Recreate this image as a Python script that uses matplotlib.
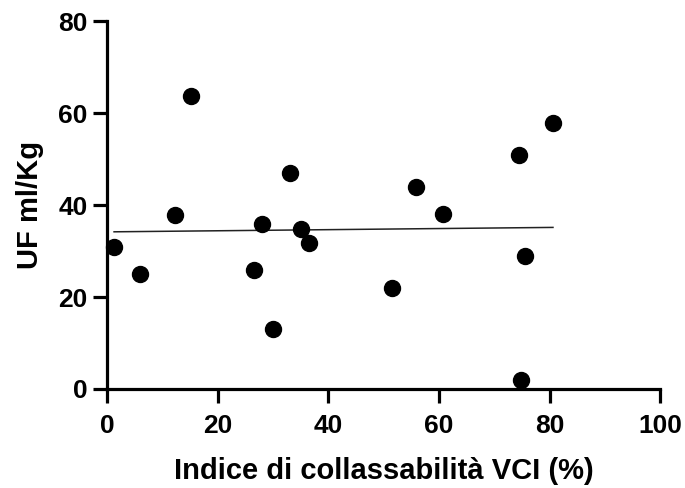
import numpy as np
import matplotlib.pyplot as plt

plt.rcParams['font.family'] = ['Liberation Sans', 'DejaVu Sans']

# collapsibility index (%) vs ultrafiltration (ml/Kg)
vci_index = [1.3, 6.0, 12.3, 15.2, 26.6, 28.0, 30.1, 33.1, 35.1, 36.6,
             51.5, 55.8, 60.7, 74.4, 74.9, 75.6, 80.6]
uf_ml_kg = [30.9, 25.0, 37.9, 63.8, 25.9, 35.9, 13.0, 47.0, 34.9, 31.8,
            21.9, 44.0, 38.0, 50.9, 2.0, 28.9, 57.9]

x = np.array(vci_index)
y = np.array(uf_ml_kg)

# linear regression over the observed range
slope, intercept = np.polyfit(x, y, 1)
xfit = np.array([x.min(), x.max()])
yfit = slope * xfit + intercept

fig = plt.figure(figsize=(6.85, 4.88), dpi=100)
ax = fig.add_axes([0.156, 0.203, 0.808, 0.753])

ax.plot(xfit, yfit, color='#222222', linewidth=1.1, zorder=2)
ax.plot(x, y, 'o', color='black', markersize=11.5, clip_on=False, zorder=3)

ax.set_xlim(0, 100)
ax.set_ylim(0, 80)
ax.set_xticks([0, 20, 40, 60, 80, 100])
ax.set_yticks([0, 20, 40, 60, 80])

for side in ['top', 'right']:
    ax.spines[side].set_visible(False)
for side in ['left', 'bottom']:
    ax.spines[side].set_linewidth(2.3)

ax.tick_params(length=10, width=2.3, labelsize=19)
ax.tick_params(axis='x', pad=8)
ax.tick_params(axis='y', pad=4)
for lab in ax.get_xticklabels() + ax.get_yticklabels():
    lab.set_fontweight('bold')

ax.set_xlabel('Indice di collassabilità VCI (%)', fontsize=21, fontweight='bold', labelpad=14)
ax.set_ylabel('UF ml/Kg', fontsize=21, fontweight='bold', labelpad=10)

fig.savefig('out.png', dpi=100)
